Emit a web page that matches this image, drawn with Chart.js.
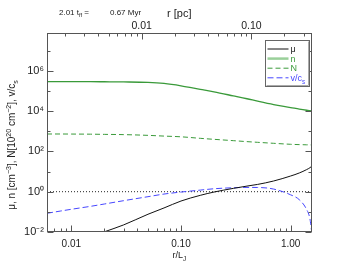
<!DOCTYPE html>
<html><head><meta charset="utf-8">
<script src="https://cdn.jsdelivr.net/npm/chart.js@4.4.1/dist/chart.umd.min.js"></script>
<style>html,body{margin:0;padding:0;background:#fff;}canvas{display:block}</style>
</head><body>
<canvas id="c" width="338" height="270"></canvas>
<script>
// ---- data ----
const rOverLJ   = [0.006, 0.008, 0.01, 0.015, 0.02, 0.03, 0.05, 0.07, 0.1, 0.15, 0.2, 0.3, 0.4, 0.5, 0.7, 1.0, 1.2, 1.4, 1.5, 1.55];
const muValues  = [null, null, null, null, 0.0102, 0.0225, 0.076, 0.156, 0.344, 0.66, 0.96, 1.46, 1.9, 2.3, 3.4, 6.0, 8.5, 12.5, 15.5, 18];
const nValues   = [2.9e5, 2.9e5, 2.9e5, 2.88e5, 2.85e5, 2.8e5, 2.65e5, 2.35e5, 1.8e5, 1.2e5, 9.0e4, 5.7e4, 4.1e4, 3.1e4, 2.1e4, 1.5e4, 1.25e4, 1.1e4, 1.05e4, 1.0e4];
const NValues   = [730, 730, 725, 715, 700, 680, 625, 575, 530, 445, 397, 341, 305, 282, 252, 225, 217, 212, 210, 209];
const vValues   = [0.085, 0.11, 0.134, 0.188, 0.245, 0.358, 0.565, 0.764, 0.96, 1.2, 1.4, 1.57, 1.63, 1.62, 1.35, 0.7, 0.4, 0.13, 0.045, 0.012];
const unityLine = [1, 1];
const seriesNames = ['μ', 'n', 'N', 'v/c'];
const xTickValues = [0.01, 0.1, 1];
const xTickLabels = ['0.01', '0.10', '1.00'];
const pcTickValues = [0.01, 0.1];
const pcTickLabels = ['0.01', '0.10'];
const yTickValues = [1e-2, 1e0, 1e2, 1e4, 1e6];
const yTickLabels = ['10⁻²', '10⁰', '10²', '10⁴', '10⁶'];
const rMin = 0.006, rMax = 1.55, yMin = 0.01, yMax = 7.5e7, pcPerLJ = 0.228;

const FONT = '"Liberation Sans", Arial, Helvetica, sans-serif';
const GREEN = '#3a9a3a', BLUE = '#4646ff', DARK = '#222';

function pts(vals){ return rOverLJ.map((r,i)=>({x:r, y:vals[i]})); }

function rich(ctx, x, y, parts, base, align){
  let w = 0;
  parts.forEach(p=>{ ctx.font = (p[1] ? base*0.7 : base) + 'px ' + FONT; w += ctx.measureText(p[0]).width; });
  let cx = align === 'center' ? x - w/2 : (align === 'right' ? x - w : x);
  ctx.textAlign = 'left'; ctx.textBaseline = 'alphabetic';
  parts.forEach(p=>{
    const s = p[1] ? base*0.7 : base;
    ctx.font = s + 'px ' + FONT;
    const dy = p[1] === 1 ? -base*0.42 : (p[1] === 2 ? base*0.28 : 0);
    ctx.fillText(p[0], cx, y + dy);
    cx += ctx.measureText(p[0]).width;
  });
}

function logTicks(min, max){
  const out = [];
  for (let e = Math.floor(Math.log10(min)); e <= Math.ceil(Math.log10(max)); e++){
    for (let k = 1; k <= 9; k++){
      const v = k * Math.pow(10, e);
      if (v >= min*0.9999 && v <= max*1.0001) out.push({v, major: k === 1});
    }
  }
  return out;
}

const decor = {
  id: 'decor',
  afterDatasetsDraw(chart){
    const {ctx, chartArea: a, scales} = chart;
    ctx.save();
    ctx.strokeStyle = '#555'; ctx.lineWidth = 1;
    const L = Math.round(a.left)+0.5, R = Math.round(a.right)-0.5, T = Math.round(a.top)+0.5, B = Math.round(a.bottom)-0.5;
    ctx.beginPath();
    logTicks(rMin, rMax).forEach(t=>{
      const px = Math.round(scales.x.getPixelForValue(t.v))+0.5;
      ctx.moveTo(px, B); ctx.lineTo(px, B - (t.major ? 6 : 3));
    });
    logTicks(rMin*pcPerLJ, rMax*pcPerLJ).forEach(t=>{
      const px = Math.round(scales.x2.getPixelForValue(t.v))+0.5;
      ctx.moveTo(px, T); ctx.lineTo(px, T + (t.major ? 6 : 3));
    });
    for (let e = -2; e <= 7; e++){
      const py = Math.round(scales.y.getPixelForValue(Math.pow(10, e)))+0.5;
      const len = (e % 2 === 0) ? 6 : 3;
      ctx.moveTo(L, py); ctx.lineTo(L + len, py);
      ctx.moveTo(R, py); ctx.lineTo(R - len, py);
    }
    ctx.stroke();
    ctx.strokeRect(L, T, R-L, B-T);

    // legend
    const bx = Math.round(a.right) - 46.5, by = Math.round(a.top) + 7.5, bw = 44, bh = 46;
    ctx.fillStyle = '#fff'; ctx.fillRect(bx, by, bw, bh);
    ctx.strokeStyle = '#aaa'; ctx.beginPath();
    ctx.moveTo(bx+bw-1, by+1); ctx.lineTo(bx+bw-1, by+bh-1); ctx.lineTo(bx+1, by+bh-1); ctx.stroke();
    ctx.strokeStyle = '#666'; ctx.strokeRect(bx, by, bw, bh);
    const ds = chart.data.datasets;
    const textCol = [DARK, GREEN, GREEN, BLUE];
    for (let i = 0; i < 4; i++){
      const yy = by + 8.5 + i*9.6;
      ctx.save();
      ctx.strokeStyle = i === 1 ? '#9ad09a' : ds[i].borderColor;
      ctx.lineWidth = i === 1 ? 2.5 : 1;
      ctx.setLineDash(ds[i].borderDash || []);
      ctx.beginPath(); ctx.moveTo(bx+2, yy); ctx.lineTo(bx+23, yy); ctx.stroke();
      ctx.restore();
      ctx.fillStyle = textCol[i];
      const parts = i === 3 ? [[seriesNames[i],0],['s',2]] : [[seriesNames[i],0]];
      rich(ctx, bx+25, yy+3.2, parts, 9, 'left');
    }

    // titles
    ctx.fillStyle = DARK;
    rich(ctx, (a.left+a.right)/2, 258, [['r/L',0],['J',2]], 9, 'center');
    rich(ctx, (a.left+a.right)/2, 16.5, [['r [pc]',0]], 11, 'center');
    rich(ctx, 59, 15, [['2.01 t',0],['ff',2],[' =',0]], 8, 'left');
    rich(ctx, 110, 15, [['0.67 Myr',0]], 8, 'left');
    ctx.save();
    ctx.translate(15, 145); ctx.rotate(-Math.PI/2);
    rich(ctx, 0, 0, [['μ, n [cm',0],['−3',1],['], N[10',0],['20',1],[' cm',0],['−2',1],['], v/c',0],['s',2]], 10, 'center');
    ctx.restore();
    ctx.restore();
  }
};

new Chart(document.getElementById('c'), {
  type: 'line',
  data: {
    datasets: [
      {label: seriesNames[0], data: pts(muValues), borderColor: '#111', borderWidth: 1},
      {label: seriesNames[1], data: pts(nValues), borderColor: GREEN, borderWidth: 1.3},
      {label: seriesNames[2], data: pts(NValues), borderColor: GREEN, borderWidth: 1, borderDash: [5,3]},
      {label: seriesNames[3], data: pts(vValues), borderColor: BLUE, borderWidth: 1, borderDash: [6,3]},
      {label: 'unity', data: [{x: rMin, y: unityLine[0]}, {x: rMax, y: unityLine[1]}], borderColor: '#222', borderWidth: 1, borderDash: [1,2]}
    ]
  },
  options: {
    responsive: false, animation: false, devicePixelRatio: 1,
    layout: {padding: {left: 0, right: 26.5, top: 0, bottom: 0}},
    elements: {point: {radius: 0}, line: {cubicInterpolationMode: 'monotone', fill: false}},
    plugins: {legend: {display: false}, tooltip: {enabled: false}},
    scales: {
      x: {
        type: 'logarithmic', position: 'bottom', min: rMin, max: rMax,
        afterBuildTicks: s => { s.ticks = xTickValues.map(v=>({value: v})); },
        afterFit: s => { s.height = 38; },
        ticks: {callback: (v,i)=>xTickLabels[i], font: {family: FONT, size: 10}, color: DARK, padding: 6, autoSkip: false, maxRotation: 0},
        grid: {display: false, drawTicks: false, tickLength: 0}, border: {display: false}
      },
      x2: {
        type: 'logarithmic', position: 'top', min: rMin*pcPerLJ, max: rMax*pcPerLJ,
        afterBuildTicks: s => { s.ticks = pcTickValues.map(v=>({value: v})); },
        afterFit: s => { s.height = 33; },
        ticks: {callback: (v,i)=>pcTickLabels[i], font: {family: FONT, size: 10.5}, color: DARK, padding: 1, autoSkip: false, maxRotation: 0},
        grid: {display: false, drawTicks: false, tickLength: 0}, border: {display: false}
      },
      y: {
        type: 'logarithmic', position: 'left', min: yMin, max: yMax,
        afterBuildTicks: s => { s.ticks = yTickValues.map(v=>({value: v})); },
        afterFit: s => { s.width = 47; },
        ticks: {callback: (v,i)=>yTickLabels[i], font: {family: FONT, size: 11}, color: DARK, padding: 3, autoSkip: false},
        grid: {display: false, drawTicks: false, tickLength: 0}, border: {display: false}
      }
    }
  },
  plugins: [decor]
});
</script>
</body></html>
